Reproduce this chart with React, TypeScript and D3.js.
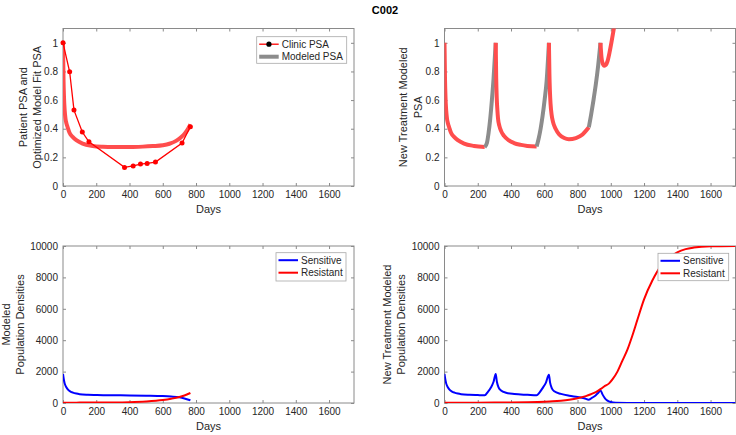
import { useRef, useEffect } from "react";
import * as d3 from "d3";

const FONT = "'Liberation Sans', Arial, Helvetica, sans-serif";
const TEXT = "#262626";
const AXIS = "#8a8a8a";
const PSA_RED = "#ff4d4d";
const PSA_GRAY = "#8c8c8c";
const BLUE = "#0000ff";
const RED = "#ff0000";

// tick labels
const dayTicks = [0, 200, 400, 600, 800, 1000, 1200, 1400, 1600];
const psaTicks = [0, 0.2, 0.4, 0.6, 0.8, 1];
const psaTickLabels = ["0", "0.2", "0.4", "0.6", "0.8", "1"];
const popTicks = [0, 2000, 4000, 6000, 8000, 10000];

// clinic PSA (normalised)
const clinicDays = [0, 40, 66, 116, 156, 370, 422, 466, 506, 556, 716, 766];
const clinicPsa = [1.0, 0.798, 0.53, 0.377, 0.309, 0.13, 0.14, 0.153, 0.158, 0.167, 0.3, 0.414];

// optimized model fit
const fitDays = [0, 3, 6, 10, 15, 20, 28, 40, 58, 80, 118, 178, 240, 300, 360, 420, 480, 540, 600, 640, 680, 710, 735, 755, 766];
const fitPsa = [1.0, 0.75, 0.62, 0.53, 0.47, 0.44, 0.41, 0.37, 0.343, 0.32, 0.296, 0.28, 0.274, 0.272, 0.272, 0.273, 0.275, 0.279, 0.285, 0.295, 0.315, 0.34, 0.37, 0.405, 0.43];

// new treatment modeled PSA
const newPsaDays = [
  0, 3, 6, 10, 15, 20, 28, 40, 58, 80, 118, 178, 242,
  255, 265, 275, 285, 295, 308,
  311, 314, 318, 322, 330, 340, 358, 385, 418, 460, 498, 554,
  566, 578, 590, 602, 614, 628,
  631, 634, 638, 644, 652, 668, 690, 720, 748, 790, 830, 868,
  882, 896, 910, 924, 938,
  944, 950, 956, 962, 970, 980, 992, 1005, 1020, 1035,
];
const newPsa = [
  1.0, 0.75, 0.62, 0.53, 0.47, 0.44, 0.41, 0.37, 0.343, 0.32, 0.296, 0.28, 0.272,
  0.3, 0.37, 0.47, 0.6, 0.75, 1.0,
  0.75, 0.62, 0.53, 0.47, 0.42, 0.385, 0.35, 0.32, 0.3, 0.287, 0.28, 0.276,
  0.33, 0.4, 0.49, 0.6, 0.73, 1.0,
  0.78, 0.66, 0.57, 0.5, 0.45, 0.4, 0.36, 0.335, 0.327, 0.335, 0.36, 0.41,
  0.5, 0.6, 0.71, 0.84, 1.0,
  0.9, 0.86, 0.845, 0.84, 0.845, 0.87, 0.93, 1.01, 1.11, 1.22,
];
const phaseBreaks = [0, 242, 308, 554, 628, 868, 938, 1035];
const offTreatment = [false, true, false, true, false, true, false];

// modeled population densities (fit)
const popDays = [0, 5, 10, 20, 30, 45, 60, 80, 100, 150, 200, 242, 300, 400, 500, 600, 650, 700, 730, 766];
const popSensitive = [1850, 1500, 1250, 1000, 850, 730, 660, 600, 560, 520, 505, 495, 490, 480, 465, 440, 410, 360, 290, 170];
const popResistant = [20, 20, 20, 21, 21, 22, 22, 23, 24, 26, 28, 30, 35, 55, 100, 190, 270, 380, 480, 640];

// new treatment population densities
const newSensDays = [
  0, 5, 10, 20, 30, 45, 60, 80, 100, 150, 200, 242,
  260, 280, 295, 308,
  315, 325, 340, 370, 420, 500, 554,
  570, 590, 610, 628,
  635, 645, 660, 700, 750, 800, 840, 868,
  890, 910, 925, 938,
  950, 965, 980, 1000, 1030, 1100, 1200, 1750,
];
const newSens = [
  1850, 1500, 1250, 1000, 850, 730, 660, 600, 560, 520, 505, 495,
  700, 1000, 1350, 1850,
  1350, 1000, 800, 650, 570, 520, 490,
  650, 950, 1300, 1800,
  1300, 950, 750, 580, 460, 380, 300, 210,
  350, 500, 650, 800,
  550, 300, 150, 60, 15, 3, 0, 0,
];
const newResDays = [0, 200, 300, 400, 500, 600, 650, 700, 750, 800, 850, 880, 910, 940, 960, 990, 1010, 1040, 1070, 1100, 1130, 1160, 1200, 1250, 1300, 1350, 1400, 1450, 1500, 1600, 1750];
const newRes = [20, 22, 28, 38, 55, 85, 110, 150, 210, 300, 440, 560, 700, 900, 1050, 1250, 1500, 2000, 2700, 3400, 4300, 5300, 6600, 7800, 8700, 9250, 9600, 9800, 9900, 9980, 10000];

type Box = { left: number; right: number; top: number; bottom: number };
const TL: Box = { left: 63, right: 354, top: 28.5, bottom: 186 };
const TR: Box = { left: 444.5, right: 735.5, top: 28.5, bottom: 186 };
const BL: Box = { left: 63, right: 354, top: 246, bottom: 403 };
const BR: Box = { left: 444.5, right: 735.5, top: 246, bottom: 403 };

type Sel = d3.Selection<SVGSVGElement, unknown, null, undefined>;

function frame(svg: Sel, id: string, b: Box, yDomain: [number, number], yTicks: number[], yFmt: (d: number) => string, yLabel: string[], yLabelX: number[]) {
  const x = d3.scaleLinear().domain([0, 1750]).range([b.left, b.right]);
  const y = d3.scaleLinear().domain(yDomain).range([b.bottom, b.top]);
  const w = b.right - b.left;
  const h = b.bottom - b.top;

  svg.append("clipPath").attr("id", id).append("rect")
    .attr("x", b.left).attr("y", b.top).attr("width", w).attr("height", h);

  svg.append("rect")
    .attr("x", b.left).attr("y", b.top).attr("width", w).attr("height", h)
    .attr("fill", "#fff").attr("stroke", AXIS).attr("stroke-width", 1);

  const style = (g: any) => {
    g.select(".domain").remove();
    g.selectAll("line").attr("stroke", AXIS);
    g.selectAll("text").attr("fill", TEXT).attr("font-family", FONT).attr("font-size", 10);
  };

  svg.append("g").attr("transform", `translate(0,${b.bottom})`)
    .call(d3.axisBottom(x).tickValues(dayTicks).tickSize(-3).tickPadding(5).tickFormat((d) => String(d)))
    .call(style);
  svg.append("g").attr("transform", `translate(0,${b.top})`)
    .call(d3.axisTop(x).tickValues(dayTicks).tickSize(-3).tickFormat(() => ""))
    .call(style);
  svg.append("g").attr("transform", `translate(${b.left},0)`)
    .call(d3.axisLeft(y).tickValues(yTicks).tickSize(-3).tickPadding(5).tickFormat((d) => yFmt(d as number)))
    .call(style);
  svg.append("g").attr("transform", `translate(${b.right},0)`)
    .call(d3.axisRight(y).tickValues(yTicks).tickSize(-3).tickFormat(() => ""))
    .call(style);

  svg.append("text")
    .attr("x", (b.left + b.right) / 2).attr("y", b.bottom + 27)
    .attr("text-anchor", "middle").attr("font-family", FONT).attr("font-size", 11).attr("fill", TEXT)
    .text("Days");

  const cy = (b.top + b.bottom) / 2;
  yLabel.forEach((t, i) => {
    svg.append("text")
      .attr("transform", `translate(${yLabelX[i]},${cy}) rotate(-90)`)
      .attr("text-anchor", "middle").attr("dominant-baseline", "central")
      .attr("font-family", FONT).attr("font-size", 11).attr("fill", TEXT)
      .text(t);
  });

  return { x, y };
}

type Entry = { label: string; color: string; width: number; marker?: boolean };

function legend(svg: Sel, lx: number, ly: number, lw: number, lh: number, entries: Entry[]) {
  const g = svg.append("g");
  g.append("rect").attr("x", lx).attr("y", ly).attr("width", lw).attr("height", lh)
    .attr("fill", "#fff").attr("stroke", "#a8a8a8").attr("stroke-width", 0.8);
  entries.forEach((e, i) => {
    const cy = ly + 7.5 + i * 12.5;
    g.append("line").attr("x1", lx + 2.5).attr("x2", lx + 22).attr("y1", cy).attr("y2", cy)
      .attr("stroke", e.color).attr("stroke-width", e.width);
    if (e.marker) {
      g.append("circle").attr("cx", lx + 12.25).attr("cy", cy).attr("r", 2.6).attr("fill", "#000");
    }
    g.append("text").attr("x", lx + 25).attr("y", cy).attr("dominant-baseline", "central")
      .attr("font-family", FONT).attr("font-size", 10).attr("fill", TEXT).text(e.label);
  });
}

export default function App() {
  const svgRef = useRef<SVGSVGElement>(null);

  useEffect(() => {
    if (!svgRef.current) return;
    const svg = d3.select(svgRef.current);
    svg.selectAll("*").remove();

    const psaFmt = (d: number) => psaTickLabels[psaTicks.indexOf(d)] ?? String(d);
    const popFmt = (d: number) => String(d);

    // title
    svg.append("text").attr("x", 385).attr("y", 14).attr("text-anchor", "middle")
      .attr("font-family", FONT).attr("font-size", 11).attr("font-weight", "bold").attr("fill", "#000")
      .text("C002");

    // --- top-left: patient PSA and model fit
    {
      const { x, y } = frame(svg, "clipTL", TL, [0, 1.1], psaTicks, psaFmt, ["Patient PSA and", "Optimized Model Fit PSA"], [23, 37]);
      const line = d3.line<number>().x((_, i) => x(fitDays[i])).y((d) => y(d)).curve(d3.curveMonotoneX);
      svg.append("path").attr("d", line(fitPsa)).attr("fill", "none")
        .attr("stroke", PSA_RED).attr("stroke-width", 4).attr("stroke-linejoin", "round").attr("clip-path", "url(#clipTL)");
      const cl = d3.line<number>().x((_, i) => x(clinicDays[i])).y((d) => y(d));
      svg.append("path").attr("d", cl(clinicPsa)).attr("fill", "none").attr("stroke", RED).attr("stroke-width", 1.3);
      svg.append("g").selectAll("circle").data(clinicPsa).enter().append("circle")
        .attr("cx", (_, i) => x(clinicDays[i])).attr("cy", (d) => y(d)).attr("r", 2.5).attr("fill", RED);
      legend(svg, 256.7, 36.7, 90, 26.6, [
        { label: "Clinic PSA", color: RED, width: 1.3, marker: true },
        { label: "Modeled PSA", color: PSA_GRAY, width: 4 },
      ]);
    }

    // --- top-right: new treatment PSA
    {
      const { x, y } = frame(svg, "clipTR", TR, [0, 1.1], psaTicks, psaFmt, ["New Treatment Modeled", "PSA"], [403, 418]);
      const pts = newPsaDays.map((d, i) => [d, newPsa[i]] as [number, number]);
      const line = d3.line<[number, number]>().x((d) => x(d[0])).y((d) => y(d[1])).curve(d3.curveMonotoneX);
      for (let k = 0; k < phaseBreaks.length - 1; k++) {
        const seg = pts.filter((p) => p[0] >= phaseBreaks[k] && p[0] <= phaseBreaks[k + 1]);
        svg.append("path").attr("d", line(seg)).attr("fill", "none")
          .attr("stroke", offTreatment[k] ? PSA_GRAY : PSA_RED).attr("stroke-width", 4)
          .attr("stroke-linejoin", "round").attr("clip-path", "url(#clipTR)");
      }
    }

    // --- bottom-left: population densities
    {
      const { x, y } = frame(svg, "clipBL", BL, [0, 10000], popTicks, popFmt, ["Modeled", "Population Densities"], [6, 20]);
      const line = d3.line<number>().x((_, i) => x(popDays[i])).y((d) => y(d)).curve(d3.curveMonotoneX);
      svg.append("path").attr("d", line(popSensitive)).attr("fill", "none").attr("stroke", BLUE).attr("stroke-width", 2).attr("clip-path", "url(#clipBL)");
      svg.append("path").attr("d", line(popResistant)).attr("fill", "none").attr("stroke", RED).attr("stroke-width", 2).attr("clip-path", "url(#clipBL)");
      legend(svg, 276, 252.7, 70, 28.3, [
        { label: "Sensitive", color: BLUE, width: 2 },
        { label: "Resistant", color: RED, width: 2 },
      ]);
    }

    // --- bottom-right: new treatment population densities
    {
      const { x, y } = frame(svg, "clipBR", BR, [0, 10000], popTicks, popFmt, ["New Treatment Modeled", "Population Densities"], [387, 401]);
      const sl = d3.line<number>().x((_, i) => x(newSensDays[i])).y((d) => y(d)).curve(d3.curveMonotoneX);
      const rl = d3.line<number>().x((_, i) => x(newResDays[i])).y((d) => y(d)).curve(d3.curveMonotoneX);
      svg.append("path").attr("d", sl(newSens)).attr("fill", "none").attr("stroke", BLUE).attr("stroke-width", 2).attr("clip-path", "url(#clipBR)");
      svg.append("path").attr("d", rl(newRes)).attr("fill", "none").attr("stroke", RED).attr("stroke-width", 2).attr("clip-path", "url(#clipBR)");
      legend(svg, 658, 253.3, 70.7, 27.4, [
        { label: "Sensitive", color: BLUE, width: 2 },
        { label: "Resistant", color: RED, width: 2 },
      ]);
    }
  }, []);

  return (
    <svg
      ref={svgRef}
      width={736}
      height={435}
      style={{ position: "absolute", left: 0, top: 0, background: "#fff" }}
    />
  );
}
